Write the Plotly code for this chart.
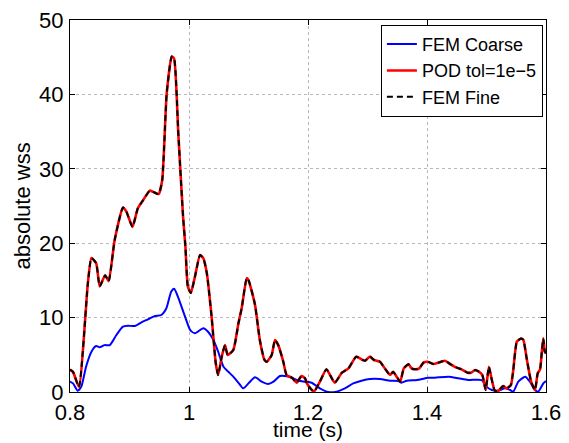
import plotly.graph_objects as go

# ---- data ----
pod_time = [0.800, 0.805, 0.815, 0.830, 0.836, 0.844, 0.850, 0.859, 0.865, 0.875,
            0.889, 0.895, 0.905, 0.914, 0.923, 0.934, 0.940, 0.949, 0.955, 0.9625,
            0.971, 0.975, 0.982, 0.990, 0.994, 0.998, 1.003, 1.010, 1.0185, 1.024,
            1.030, 1.038, 1.045, 1.049, 1.055, 1.0605, 1.065, 1.0745, 1.083, 1.0885,
            1.097, 1.100, 1.111, 1.119, 1.127, 1.131, 1.139, 1.1445, 1.150, 1.1585,
            1.164, 1.173, 1.181, 1.189, 1.195, 1.198, 1.204, 1.210, 1.220, 1.231,
            1.245, 1.257, 1.268, 1.281, 1.292, 1.296, 1.304, 1.311, 1.3165, 1.321,
            1.329, 1.338, 1.343, 1.349, 1.355, 1.361, 1.369, 1.374, 1.380, 1.387,
            1.394, 1.401, 1.411, 1.419, 1.430, 1.439, 1.450, 1.458, 1.468, 1.474,
            1.481, 1.487, 1.493, 1.4986, 1.504, 1.509, 1.514, 1.520, 1.528, 1.534,
            1.541, 1.545, 1.551, 1.558, 1.562, 1.5675, 1.575, 1.5815, 1.586, 1.590,
            1.593, 1.5955, 1.598, 1.600]
pod_wss = [3.0, 2.7, 0.7, 14.6, 18.0, 17.3, 14.2, 15.7, 14.9, 20.4,
           24.8, 24.2, 22.2, 24.7, 25.8, 27.06, 26.9, 26.6, 28.5, 40.1,
           45.1, 44.8, 34.8, 23.6, 19.5, 14.2, 13.3, 15.5, 18.4, 18.0,
           15.95, 10.1, 3.86, 2.28, 4.75, 6.3, 4.97, 5.65, 9.2, 11.25,
           15.3, 15.05, 11.7, 7.0, 4.3, 4.07, 4.97, 7.0, 6.3, 4.07,
           2.28, 1.92, 1.25, 2.15, 1.84, 1.2, 0.5, 0.05, 1.39, 3.05,
           1.25, 2.6, 3.18, 4.75, 4.3, 4.2, 4.75, 4.3, 4.17, 4.07,
           3.18, 2.28, 2.73, 2.06, 1.39, 3.18, 3.72, 3.18, 3.05, 3.18,
           3.94, 4.07, 3.76, 3.94, 4.2, 3.76, 3.27, 3.05, 2.6, 2.6,
           2.96, 2.73, 2.28, 0.27, 3.4, 1.61, 0.18, 0.18, 0.8, 0.49,
           0.94, 2.96, 6.76, 7.2, 7.0, 4.52, 1.39, 0.27, 2.5, 3.05,
           5.42, 7.2, 5.42, 5.2]
fine_time = [0.800, 0.805, 0.815, 0.830, 0.836, 0.844, 0.850, 0.859, 0.865, 0.875,
             0.889, 0.895, 0.905, 0.914, 0.923, 0.934, 0.940, 0.949, 0.955, 0.9625,
             0.971, 0.975, 0.982, 0.990, 0.994, 0.998, 1.003, 1.010, 1.0185, 1.024,
             1.030, 1.038, 1.045, 1.049, 1.055, 1.0605, 1.065, 1.0745, 1.083, 1.0885,
             1.097, 1.100, 1.111, 1.119, 1.127, 1.131, 1.139, 1.1445, 1.150, 1.1585,
             1.164, 1.173, 1.181, 1.189, 1.195, 1.198, 1.204, 1.210, 1.220, 1.231,
             1.245, 1.257, 1.268, 1.281, 1.292, 1.296, 1.304, 1.311, 1.3165, 1.321,
             1.329, 1.338, 1.343, 1.349, 1.355, 1.361, 1.369, 1.374, 1.380, 1.387,
             1.394, 1.401, 1.411, 1.419, 1.430, 1.439, 1.450, 1.458, 1.468, 1.474,
             1.481, 1.487, 1.493, 1.4986, 1.504, 1.509, 1.514, 1.520, 1.528, 1.534,
             1.541, 1.545, 1.551, 1.558, 1.562, 1.5675, 1.575, 1.5815, 1.586, 1.590,
             1.593, 1.5955, 1.598, 1.600]
fine_wss = [3.0, 2.7, 0.7, 14.6, 18.0, 17.3, 14.2, 15.7, 14.9, 20.4,
            24.8, 24.2, 22.2, 24.7, 25.8, 27.06, 26.9, 26.6, 28.5, 40.1,
            45.1, 44.8, 34.8, 23.6, 19.5, 14.2, 13.3, 15.5, 18.4, 18.0,
            15.95, 10.1, 3.86, 2.28, 4.75, 6.3, 4.97, 5.65, 9.2, 11.25,
            15.3, 15.05, 11.7, 7.0, 4.3, 4.07, 4.97, 7.0, 6.3, 4.07,
            2.28, 1.92, 1.25, 2.15, 1.84, 1.2, 0.5, 0.05, 1.39, 3.05,
            1.25, 2.6, 3.18, 4.75, 4.3, 4.2, 4.75, 4.3, 4.17, 4.07,
            3.18, 2.28, 2.73, 2.06, 1.39, 3.18, 3.72, 3.18, 3.05, 3.18,
            3.94, 4.07, 3.76, 3.94, 4.2, 3.76, 3.27, 3.05, 2.6, 2.6,
            2.96, 2.73, 2.28, 0.27, 3.4, 1.61, 0.18, 0.18, 0.8, 0.49,
            0.94, 2.96, 6.76, 7.2, 7.0, 4.52, 1.39, 0.27, 2.5, 3.05,
            5.42, 7.2, 5.42, 5.2]
coarse_time = [0.800, 0.805, 0.813, 0.819, 0.827, 0.836, 0.844, 0.850, 0.858, 0.867,
               0.878, 0.889, 0.8975, 0.909, 0.920, 0.931, 0.942, 0.9535, 0.962, 0.970,
               0.975, 0.9815, 0.993, 1.002, 1.010, 1.024, 1.032, 1.041, 1.049, 1.058,
               1.066, 1.0745, 1.086, 1.091, 1.100, 1.111, 1.122, 1.133, 1.142, 1.153,
               1.161, 1.173, 1.184, 1.195, 1.206, 1.220, 1.234, 1.248, 1.262, 1.276,
               1.290, 1.304, 1.321, 1.338, 1.352, 1.357, 1.366, 1.383, 1.402, 1.413,
               1.436, 1.453, 1.469, 1.492, 1.500, 1.509, 1.520, 1.531, 1.5395, 1.545,
               1.5535, 1.565, 1.573, 1.5815, 1.587, 1.5955, 1.600]
coarse_wss = [1.4, 1.16, 0.18, 0.72, 3.4, 5.42, 6.18, 6.0, 6.3, 6.3,
              7.66, 8.78, 8.91, 8.87, 9.37, 9.77, 10.2, 10.35, 11.25, 13.48,
              13.88, 12.8, 10.2, 8.33, 7.89, 8.56, 8.1, 6.99, 5.42, 3.4,
              2.73, 2.06, 0.94, 0.49, 1.16, 1.97, 1.39, 1.07, 1.39, 2.15,
              2.15, 1.92, 1.52, 1.39, 1.25, 0.49, 0.0, 0.05, 0.49, 1.16,
              1.52, 1.75, 1.75, 1.52, 1.48, 1.25, 1.52, 1.61, 1.92, 1.92,
              2.06, 1.84, 1.61, 1.61, 0.72, 0.27, 0.18, 0.49, 0.27, 0.05,
              1.39, 2.06, 1.39, 0.27, 0.05, 1.16, 1.48]
x_ticks = [0.8, 1.0, 1.2, 1.4, 1.6]
x_tick_labels = ["0.8", "1", "1.2", "1.4", "1.6"]
y_ticks = [0, 10, 20, 30, 40, 50]

FONT = "Liberation Sans, Arial, Helvetica, sans-serif"

fig = go.Figure()
fig.add_trace(go.Scatter(x=coarse_time, y=coarse_wss, mode="lines", name="FEM Coarse",
                         line=dict(color="#0000ff", width=2, shape="spline", smoothing=0.6)))
fig.add_trace(go.Scatter(x=pod_time, y=pod_wss, mode="lines", name="POD tol=1e\u22125",
                         line=dict(color="#ff0000", width=2.6, shape="spline", smoothing=0.5)))
fig.add_trace(go.Scatter(x=fine_time, y=fine_wss, mode="lines", name="FEM Fine",
                         line=dict(color="#000000", width=2, dash="6px,4px",
                                   shape="spline", smoothing=0.5)))

axis_common = dict(showline=True, linecolor="black", linewidth=1, mirror="ticks",
                   ticks="inside", ticklen=5, tickcolor="black", showgrid=True,
                   gridcolor="#b8b8b8", griddash="dot", gridwidth=1, zeroline=False,
                   automargin=False, ticklabelstandoff=1,
                   tickfont=dict(family=FONT, size=22, color="black"))

fig.update_layout(
    template="none",
    width=569, height=443,
    margin=dict(l=70, r=23, t=20, b=51, pad=0),
    paper_bgcolor="white", plot_bgcolor="white",
    font=dict(family=FONT, color="black"),
    xaxis=dict(range=[0.8, 1.6], tickvals=x_ticks, ticktext=x_tick_labels, **axis_common),
    yaxis=dict(range=[0, 50], tickvals=y_ticks, **axis_common),
    legend=dict(x=0.9935, y=0.987, xanchor="right", yanchor="top",
                bgcolor="white", bordercolor="black", borderwidth=1,
                font=dict(family=FONT, size=18, color="black"),
                itemwidth=30, tracegroupgap=0),
    showlegend=True,
    annotations=[
        dict(text="time (s)", x=0.5, y=0, xref="paper", yref="paper",
             xanchor="center", yanchor="bottom", yshift=-50, borderpad=0,
             showarrow=False, font=dict(family=FONT, size=21, color="black")),
        dict(text="absolute wss", x=0, y=0.5, xref="paper", yref="paper",
             xanchor="right", yanchor="middle", xshift=-34, textangle=-90,
             showarrow=False, font=dict(family=FONT, size=22, color="black")),
    ],
)

fig.write_html("out.html", config={"displayModeBar": False},
               post_script="document.body.style.margin='0';document.body.style.overflow='hidden';")
